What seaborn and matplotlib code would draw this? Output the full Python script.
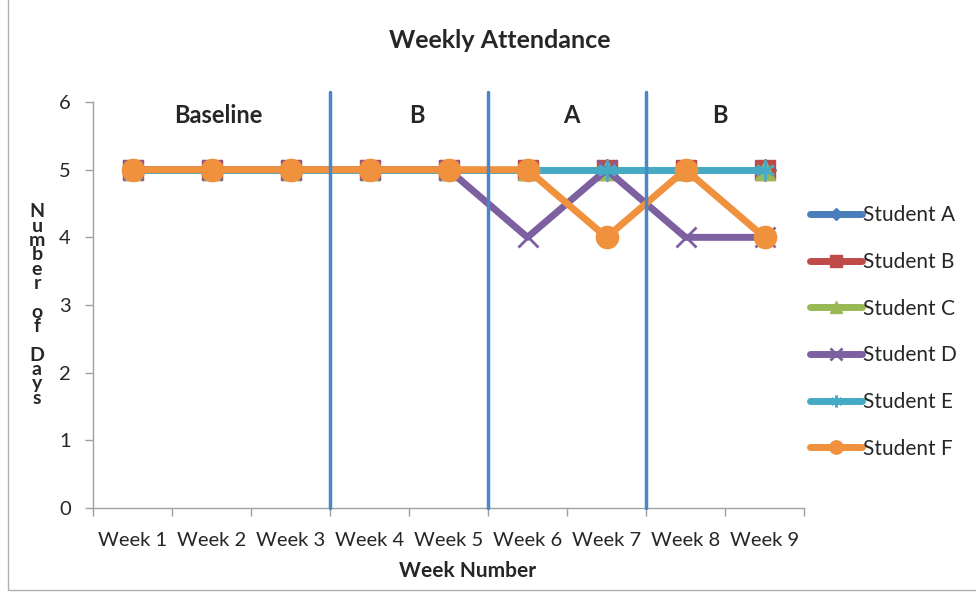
import matplotlib
matplotlib.use("Agg")
import matplotlib.pyplot as plt
import seaborn as sns
import pandas as pd
from matplotlib.patches import Rectangle

weeks = ["Week 1", "Week 2", "Week 3", "Week 4", "Week 5", "Week 6", "Week 7", "Week 8", "Week 9"]
students = ["Student A", "Student B", "Student C", "Student D", "Student E", "Student F"]
student_a = [5, 5, 5, 5, 5, 5, 5, 5, 5]
student_b = [5, 5, 5, 5, 5, 5, 5, 5, 5]
student_c = [5, 5, 5, 5, 5, 5, 5, 5, 5]
student_d = [5, 5, 5, 5, 5, 4, 5, 4, 4]
student_e = [5, 5, 5, 5, 5, 5, 5, 5, 5]
student_f = [5, 5, 5, 5, 5, 5, 4, 5, 4]
phase_labels = ["Baseline", "B", "A", "B"]
phase_x = [1.08, 3.6, 5.55, 7.44]
phase_breaks = [2.5, 4.5, 6.5]

colors = ["#4a7ebb", "#be4b48", "#98b954", "#7d60a0", "#46aac5", "#f0913e"]
markers = ["D", "s", "^", "x", (6, 2, 0), "o"]
msizes = [11, 14, 14, 14, 14, 16]

sns.set_style("white")
plt.rcParams["font.family"] = ["Lato", "DejaVu Sans"]

fig = plt.figure(figsize=(9.76, 5.94), dpi=100)
ax = fig.add_axes([93 / 976, 86 / 594, 711 / 976, 406 / 594])

# outer chart frame
fig.patches.append(Rectangle((8 / 976, 4 / 594), 1.2, 1.2, transform=fig.transFigure,
                             fill=False, edgecolor="#b0b0b0", linewidth=1.0))

series = [student_a, student_b, student_c, student_d, student_e, student_f]
df = pd.DataFrame({
    "week": list(range(len(weeks))) * len(students),
    "days": sum(series, []),
    "student": [s for s in students for _ in weeks],
})

handles = []
for i, name in enumerate(students):
    sub = df[df["student"] == name]
    sns.lineplot(data=sub, x="week", y="days", ax=ax, color=colors[i], marker=markers[i],
                 markersize=msizes[i], linewidth=5, markeredgewidth=2 if i in (3, 4) else 1,
                 markeredgecolor=colors[i], legend=False, zorder=3 + i, solid_capstyle="round")
    handles.append(ax.lines[-1])

for xb in phase_breaks:
    ax.axvline(xb, ymin=0, ymax=1.025, color="#4a86c8", linewidth=2.5, clip_on=False, zorder=10)

for lab, xp in zip(phase_labels, phase_x):
    ax.text(xp, 5.8, lab, ha="center", va="center", fontsize=17, fontweight="bold")

ax.set_xlim(-0.5, 8.5)
ax.set_ylim(0, 6)
ax.set_xticks(range(len(weeks)))
ax.set_xticklabels(weeks, fontsize=14.5)
ax.set_xticks([x + 0.5 for x in range(-1, len(weeks))], minor=True)
ax.tick_params(axis="x", which="major", length=0, pad=17)
ax.tick_params(axis="x", which="minor", length=6, color="#a0a0a0", width=1, direction="out")
ax.set_yticks(range(7))
ax.tick_params(axis="y", length=6, color="#a0a0a0", width=1, direction="out", labelsize=14.5, pad=10)
ax.xaxis.set_tick_params(bottom=True, which="both")
ax.yaxis.set_tick_params(left=True)

for s in ["top", "right"]:
    ax.spines[s].set_visible(False)
for s in ["left", "bottom"]:
    ax.spines[s].set_color("#a0a0a0")
    ax.spines[s].set_linewidth(1)

ax.set_xlabel("Week Number", fontsize=15, fontweight="bold")
ax.xaxis.set_label_coords((468 - 93) / 711, -0.13)
ax.set_ylabel("")
fig.text(37 / 976, 1 - 305 / 594, "\n".join("Number of Days"), ha="center", va="center",
         fontsize=14, fontweight="bold", linespacing=0.81)

fig.suptitle("Weekly Attendance", x=500 / 976, y=1 - 41 / 594, va="center",
             fontsize=18, fontweight="bold")

leg = fig.legend(handles, students, loc="center left", bbox_to_anchor=(791 / 976, 1 - 332 / 594),
                 frameon=False, fontsize=15, handlelength=2.5, handletextpad=0.05,
                 labelspacing=1.28, markerscale=0.6)

fig.savefig("out.png", dpi=100)
